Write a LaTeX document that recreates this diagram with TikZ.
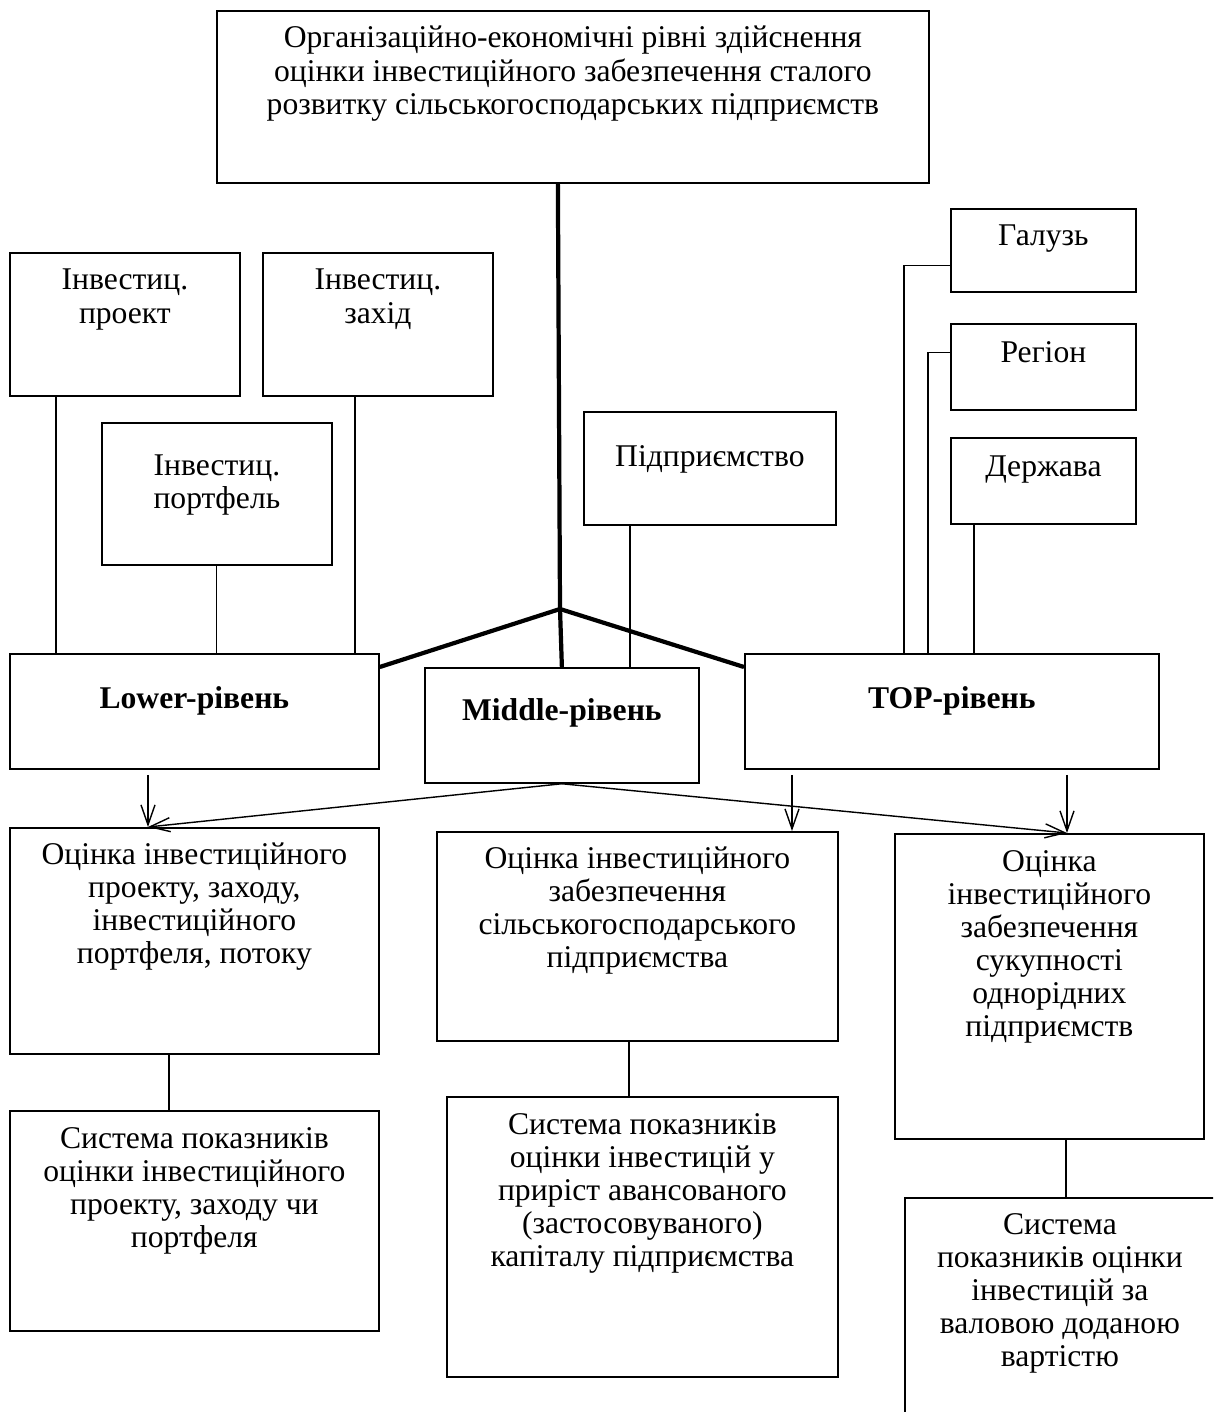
\documentclass[tikz,border=0pt]{standalone}
\usepackage{fontspec}
\setmainfont{Liberation Serif}
\usetikzlibrary{arrows.meta}
\newlength\px
\setlength\px{0.02cm}
\newcommand{\cellbox}[4]{\parbox[c][#2\px][t]{#1\px}{\centering\vspace*{#3\px}\strut #4}}
\tikzset{
    blk/.style={draw,line width=1pt,inner sep=0pt,anchor=north west},
    link/.style={-,line width=0.7pt},
    trunk/.style={-,line width=2.4pt},
    pre/.style={-{Straight Barb[length=0.4cm,width=0.28cm]},line width=0.8pt}
}

\begin{document}
\begin{tikzpicture}[x=0.02cm,y=-0.02cm,font=\fontsize{18pt}{18.8pt}\selectfont]
                \useasboundingbox (0,0) rectangle (1213,1412);
                \clip (0,0) rectangle (1213,1412);

                \node[blk] (org)   at (216,10)  {\cellbox{712}{172}{14}{Організаційно-економічні рівні здійснення\\ оцінки інвестиційного забезпечення сталого\\ розвитку сільськогосподарських підприємств}};

                \node[blk] (proj)  at (9,252)   {\cellbox{230}{143}{14}{Інвестиц.\\ проект}};
                \node[blk] (meas)  at (262,252) {\cellbox{230}{143}{14}{Інвестиц.\\ захід}};
                \node[blk] (port)  at (101,422) {\cellbox{230}{142}{29}{Інвестиц.\\ портфель}};
                \node[blk] (ent)   at (583,411) {\cellbox{252}{113}{31}{Підприємство}};
                \node[blk] (ind)   at (950,208) {\cellbox{185}{83}{14}{Галузь}};
                \node[blk] (reg)   at (950,323) {\cellbox{185}{86}{15}{Регіон}};
                \node[blk] (state) at (950,437) {\cellbox{185}{86}{15}{Держава}};

                \node[blk] (low)   at (9,653)   {\cellbox{369}{115}{31}{\textbf{Lower-рівень}}};
                \node[blk] (mid)   at (424,667) {\cellbox{274}{115}{29}{\textbf{Middle-рівень}}};
                \node[blk] (high)  at (744,653) {\cellbox{414}{115}{31}{\textbf{TOP-рівень}}};

                \node[blk] (evlow)  at (9,827)   {\cellbox{369}{226}{13}{Оцінка інвестиційного\\ проекту, заходу,\\ інвестиційного\\ портфеля, потоку}};
                \node[blk] (evmid)  at (436,831) {\cellbox{401}{209}{13}{Оцінка інвестиційного\\ забезпечення\\ сільськогосподарського\\ підприємства}};
                \node[blk] (evhigh) at (894,833) {\cellbox{309}{305}{14}{Оцінка\\ інвестиційного\\ забезпечення\\ сукупності\\ однорідних\\ підприємств}};

                \node[blk] (syslow)  at (9,1110)   {\cellbox{369}{220}{14}{Система показників\\ оцінки інвестиційного\\ проекту, заходу чи\\ портфеля}};
                \node[blk] (sysmid)  at (446,1096) {\cellbox{391}{280}{14}{Система показників\\ оцінки інвестицій у\\ приріст авансованого\\ (застосовуваного)\\ капіталу підприємства}};
                \node[blk] (syshigh) at (904,1197) {\cellbox{310}{260}{13}{Система\\ показників оцінки\\ інвестицій за\\ валовою доданою\\ вартістю}};

                \coordinate (fork) at (560,609);
                \draw[trunk] ([xshift=-15\px]org.south) -- (fork);
                \draw[trunk] (fork) -- ([yshift=-14\px]low.north east);
                \draw[trunk] (fork) -- (mid.north);
                \draw[trunk] (fork) -- ([yshift=-14\px]high.north west);

                \draw[link] ([xshift=47\px]proj.south west) coordinate (p1) -- (p1 |- low.north);
                \draw[link] ([xshift=93\px]meas.south west) coordinate (p2) -- (p2 |- low.north);
                \draw[link] (port.south) -- (port.south |- low.north);
                \draw[link] ([xshift=47\px]ent.south west) coordinate (p3) -- (p3 |- mid.north);
                \draw[link] ([yshift=-15\px]ind.west) -| ([xshift=160\px]high.north west);
                \draw[link] ([yshift=14\px]reg.west) -| ([xshift=184\px]high.north west);
                \draw[link] ([xshift=24\px]state.south west) coordinate (p4) -- (p4 |- high.north);

                \draw[link] ([xshift=160\px]evlow.south west) coordinate (p5) -- (p5 |- syslow.north);
                \draw[link] ([xshift=193\px]evmid.south west) coordinate (p6) -- (p6 |- sysmid.north);
                \draw[link] ([xshift=172\px]evhigh.south west) coordinate (p7) -- (p7 |- syshigh.north);

                \draw[pre,shorten <=0.1cm] ([xshift=139\px]low.south west) coordinate (q1) -- (q1 |- evlow.north);
                \draw[pre] (mid.south) -- (q1 |- evlow.north);
                \draw[pre,shorten <=0.1cm] ([xshift=48\px]high.south west) coordinate (q2) -- (q2 |- evmid.north);
                \draw[pre,shorten <=0.1cm] ([xshift=323\px]high.south west) coordinate (q3) -- (q3 |- evhigh.north);
                \draw[pre] (mid.south) -- (q3 |- evhigh.north);

            \end{tikzpicture}
\end{document}
